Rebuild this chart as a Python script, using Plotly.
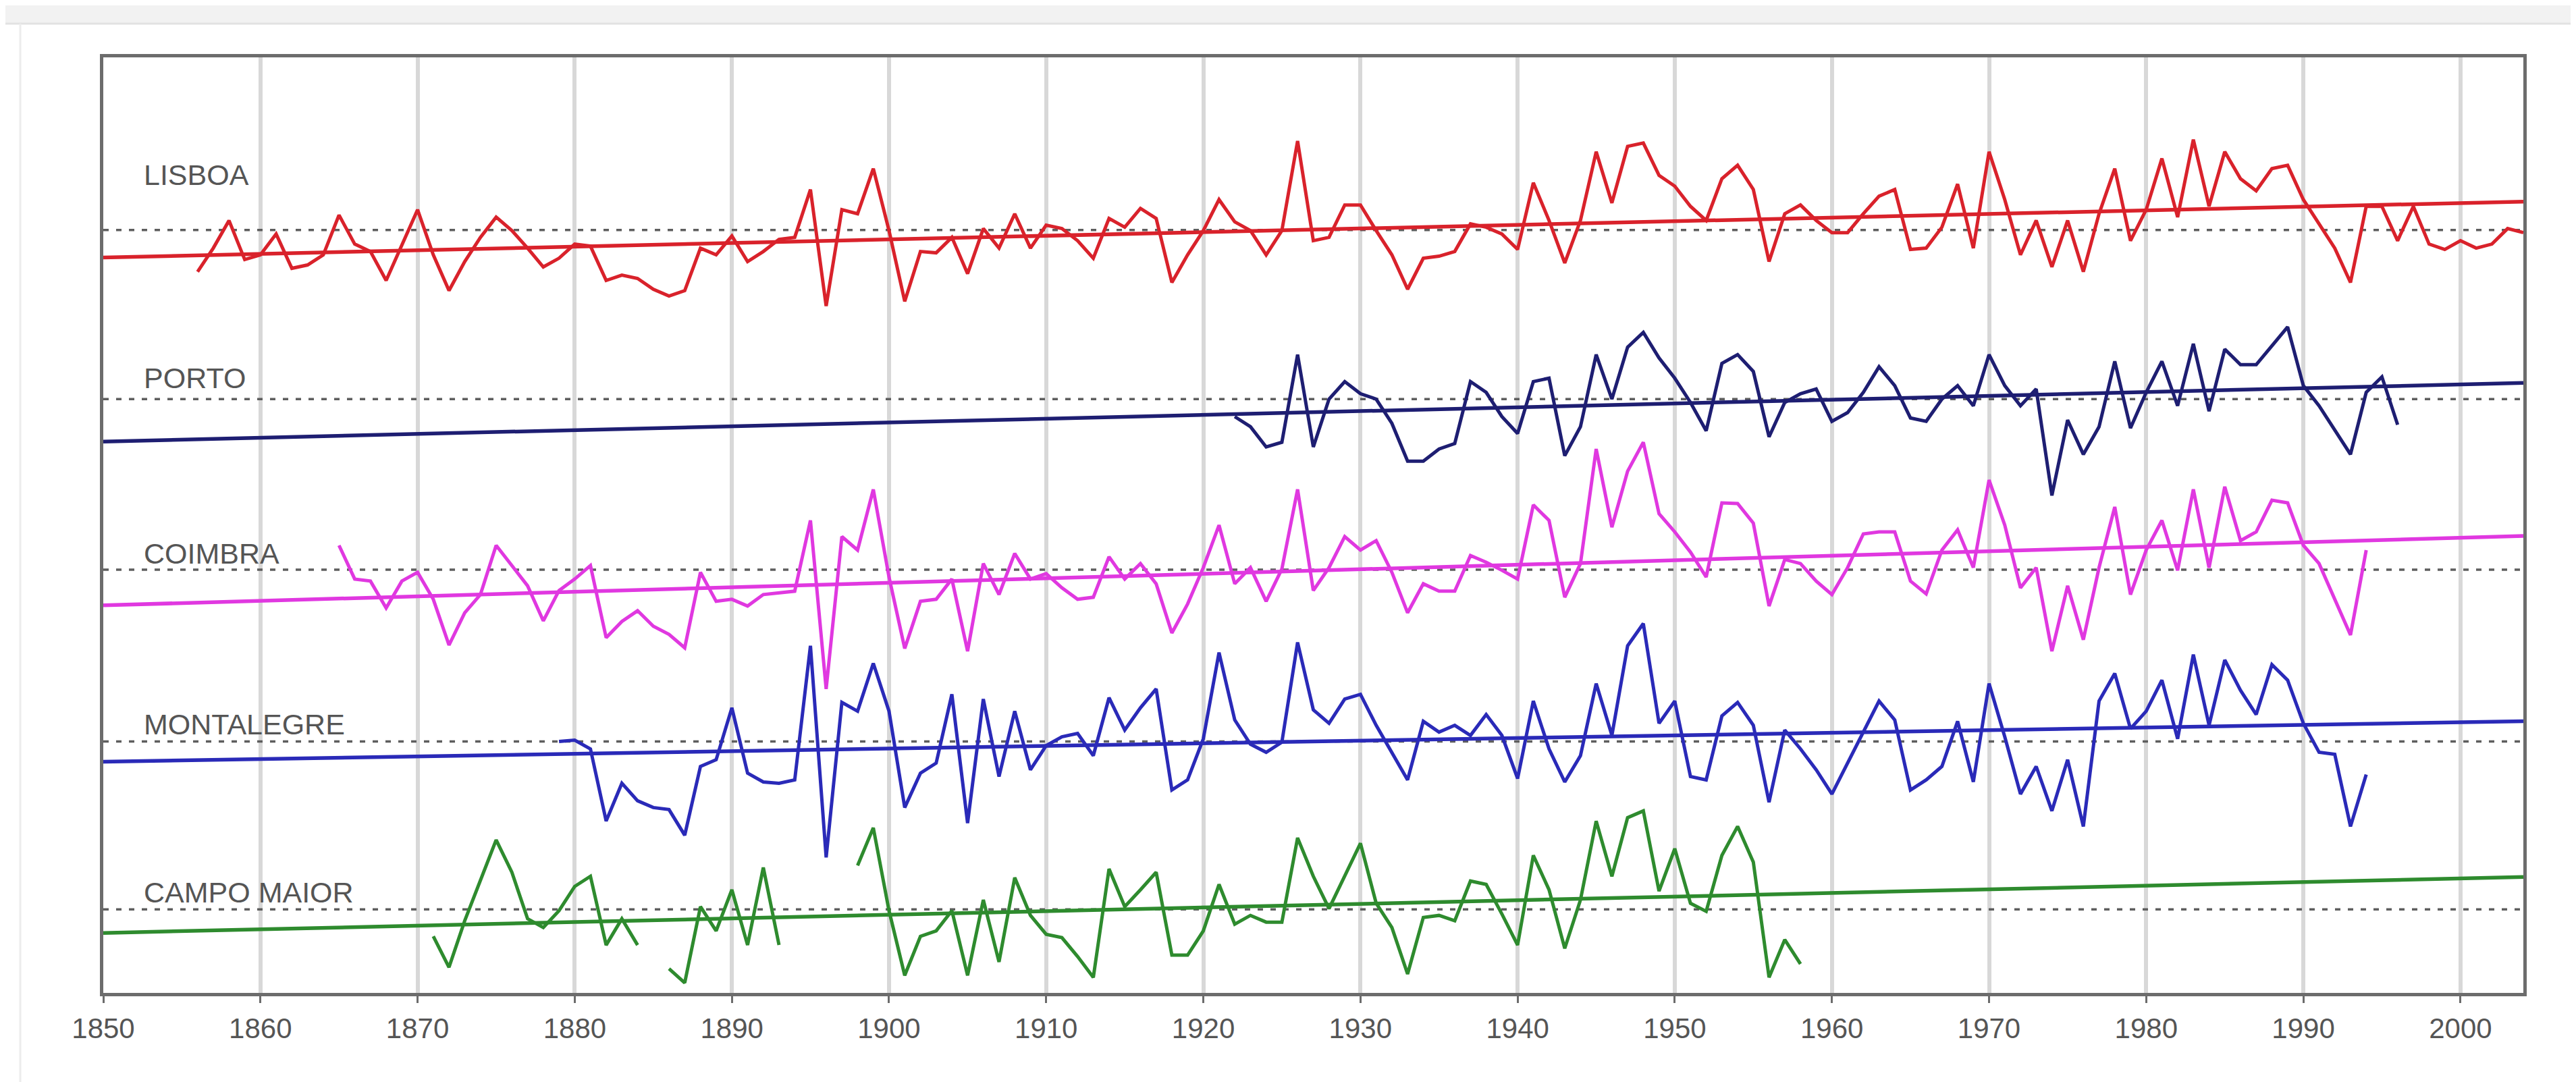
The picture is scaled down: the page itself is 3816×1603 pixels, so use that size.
import plotly.graph_objects as go

# ---------------- data (anomalies relative to each station's mean) ----------------
STATIONS = ["LISBOA", "PORTO", "COIMBRA", "MONTALEGRE", "CAMPO MAIOR"]

LISBOA_START = 1856
LISBOA = [
    -0.62, -0.27, 0.14, -0.44, -0.37, -0.06, -0.57, -0.52, -0.37, 0.22,   # 1856-1865
    -0.21, -0.32, -0.75, -0.21, 0.30, -0.37, -0.90, -0.47, -0.11, 0.19,   # 1866-1875
    -0.01, -0.27, -0.55, -0.42, -0.21, -0.24, -0.75, -0.67, -0.72, -0.88, # 1876-1885
    -0.98, -0.90, -0.27, -0.37, -0.09, -0.47, -0.32, -0.14, -0.11, 0.60,  # 1886-1895
    -1.13, 0.30, 0.24, 0.91, -0.01, -1.06, -0.32, -0.34, -0.11, -0.65,    # 1896-1905
    0.02, -0.27, 0.24, -0.27, 0.07, 0.02, -0.16, -0.42, 0.17, 0.04,       # 1906-1915
    0.32, 0.17, -0.78, -0.37, -0.01, 0.45, 0.12, -0.01, -0.37, -0.01,     # 1916-1925
    1.32, -0.16, -0.11, 0.37, 0.37, -0.01, -0.37, -0.88, -0.42, -0.39,    # 1926-1935
    -0.32, 0.09, 0.04, -0.06, -0.29, 0.70, 0.14, -0.49, 0.14, 1.16,       # 1936-1945
    0.40, 1.24, 1.29, 0.81, 0.65, 0.35, 0.14, 0.76, 0.96, 0.60,           # 1946-1955
    -0.47, 0.24, 0.37, 0.14, -0.04, -0.04, 0.24, 0.50, 0.60, -0.29,       # 1956-1965
    -0.27, 0.04, 0.68, -0.27, 1.16, 0.45, -0.37, 0.14, -0.55, 0.14,       # 1966-1975
    -0.62, 0.24, 0.91, -0.16, 0.30, 1.06, 0.19, 1.34, 0.35, 1.16,         # 1976-1985
    0.76, 0.58, 0.91, 0.96, 0.45, 0.09, -0.27, -0.78, 0.35, 0.35,         # 1986-1995
    -0.16, 0.35, -0.21, -0.29, -0.16, -0.27, -0.21, 0.02, -0.04,          # 1996-2004
]

PORTO_START = 1922
PORTO = [
    -0.26, -0.41, -0.71, -0.64, 0.66, -0.71, 0.00, 0.26, 0.08,            # 1922-1930
    0.00, -0.36, -0.92, -0.92, -0.74, -0.66, 0.26, 0.10, -0.26, -0.51,    # 1931-1940
    0.26, 0.31, -0.84, -0.41, 0.66, 0.00, 0.77, 0.99, 0.61, 0.31,         # 1941-1950
    -0.05, -0.47, 0.53, 0.66, 0.41, -0.56, -0.05, 0.08, 0.15, -0.33,      # 1951-1960
    -0.20, 0.10, 0.48, 0.20, -0.28, -0.33, 0.00, 0.20, -0.10, 0.66,       # 1961-1970
    0.20, -0.10, 0.15, -1.43, -0.31, -0.82, -0.41, 0.56, -0.43, 0.10,     # 1971-1980
    0.56, -0.10, 0.82, -0.18, 0.74, 0.51, 0.51, 0.79, 1.07, 0.20,         # 1981-1990
    -0.10, -0.46, -0.82, 0.10, 0.33, -0.38,                               # 1991-1996
]

COIMBRA_START = 1865
COIMBRA = [
    0.36, -0.14, -0.17, -0.57, -0.17, -0.04,                              # 1865-1870
    -0.44, -1.12, -0.64, -0.37, 0.36, 0.06, -0.24, -0.76, -0.31, -0.14,   # 1871-1880
    0.06, -1.01, -0.77, -0.61, -0.84, -0.96, -1.16, -0.04, -0.47, -0.44,  # 1881-1890
    -0.54, -0.37, -0.34, -0.32, 0.73, -1.77, 0.49, 0.29, 1.19, -0.11,     # 1891-1900
    -1.17, -0.47, -0.44, -0.14, -1.21, 0.09, -0.37, 0.24, -0.14, -0.06,   # 1901-1910
    -0.27, -0.44, -0.41, 0.19, -0.14, 0.09, -0.21, -0.94, -0.51, 0.03,    # 1911-1920
    0.66, -0.21, 0.03, -0.47, 0.01, 1.19, -0.31, 0.03, 0.49, 0.29,        # 1921-1930
    0.43, -0.04, -0.64, -0.21, -0.32, -0.32, 0.21, 0.11, -0.01, -0.14,    # 1931-1940
    0.96, 0.73, -0.41, 0.09, 1.79, 0.63, 1.46, 1.89, 0.83, 0.56,          # 1941-1950
    0.26, -0.11, 0.99, 0.98, 0.69, -0.54, 0.15, 0.09, -0.17, -0.37,       # 1951-1960
    0.03, 0.53, 0.56, 0.56, -0.17, -0.36, 0.29, 0.59, 0.03, 1.33,         # 1961-1970
    0.66, -0.27, 0.03, -1.21, -0.24, -1.04, 0.03, 0.93, -0.37, 0.29,      # 1971-1980
    0.73, -0.01, 1.19, 0.03, 1.23, 0.43, 0.56, 1.03, 0.99, 0.36,          # 1981-1990
    0.09, -0.44, -0.97, 0.29,                                             # 1991-1994
]

MONTALEGRE_START = 1879
MONTALEGRE = [
    0.00, 0.02,                                                           # 1879-1880
    -0.11, -1.18, -0.62, -0.88, -0.98, -1.01, -1.39, -0.37, -0.27, 0.50,  # 1881-1890
    -0.47, -0.60, -0.62, -0.57, 1.42, -1.72, 0.58, 0.45, 1.16, 0.45,      # 1891-1900
    -0.98, -0.47, -0.32, 0.70, -1.21, 0.63, -0.52, 0.45, -0.42, -0.06,    # 1901-1910
    0.07, 0.12, -0.21, 0.65, 0.17, 0.50, 0.78, -0.72, -0.57, 0.04,        # 1911-1920
    1.32, 0.32, -0.04, -0.16, -0.01, 1.47, 0.47, 0.27, 0.63, 0.70,        # 1921-1930
    0.24, -0.16, -0.57, 0.30, 0.14, 0.24, 0.09, 0.40, 0.09, -0.55,        # 1931-1940
    0.60, -0.11, -0.60, -0.21, 0.86, 0.09, 1.42, 1.75, 0.27, 0.60,        # 1941-1950
    -0.52, -0.57, 0.38, 0.58, 0.24, -0.90, 0.17, -0.11, -0.42, -0.78,     # 1951-1960
    -0.32, 0.14, 0.60, 0.32, -0.72, -0.57, -0.37, 0.30, -0.60, 0.86,      # 1961-1970
    0.07, -0.78, -0.37, -1.03, -0.27, -1.26, 0.60, 1.01, 0.19, 0.45,      # 1971-1980
    0.91, 0.04, 1.29, 0.24, 1.21, 0.76, 0.40, 1.14, 0.91, 0.27,           # 1981-1990
    -0.16, -0.19, -1.26, -0.49,                                           # 1991-1994
]

CAMPO_MAIOR_START = 1871
CAMPO_MAIOR = [
    -0.40, -0.86, -0.17, 0.44, 1.03, 0.55, -0.14, -0.27, -0.02, 0.34,     # 1871-1880
    0.49, -0.53, -0.14, -0.53, None, -0.88, -1.09, 0.04, -0.32, 0.29,     # 1881-1890
    -0.53, 0.62, -0.53, None, None, None, None, 0.65, 1.21, -0.02,        # 1891-1900
    -0.98, -0.40, -0.32, -0.02, -0.98, 0.14, -0.78, 0.47, -0.09, -0.37,   # 1901-1910
    -0.42, -0.70, -1.01, 0.60, 0.04, 0.29, 0.55, -0.68, -0.68, -0.32,     # 1911-1920
    0.37, -0.22, -0.09, -0.19, -0.19, 1.06, 0.49, 0.01, 0.49, 0.98,       # 1921-1930
    0.09, -0.27, -0.96, -0.12, -0.09, -0.17, 0.42, 0.37, -0.07, -0.53,    # 1931-1940
    0.80, 0.29, -0.58, 0.14, 1.31, 0.49, 1.36, 1.46, 0.27, 0.90,          # 1941-1950
    0.09, -0.03, 0.80, 1.23, 0.70, -1.01, -0.45, -0.81,                   # 1951-1958
]

# linear trend values at the two ends of the axis (relative to each station's mean)
TREND_YEARS = [1850, 2004]
TREND_START = [-0.41, -0.63, -0.53, -0.30, -0.35]
TREND_END = [0.42, 0.24, 0.50, 0.30, 0.48]

X_TICKS = list(range(1850, 2001, 10))

# ---------------- layout / style settings ----------------
SERIES = [
    (LISBOA_START, LISBOA),
    (PORTO_START, PORTO),
    (COIMBRA_START, COIMBRA),
    (MONTALEGRE_START, MONTALEGRE),
    (CAMPO_MAIOR_START, CAMPO_MAIOR),
]
COLORS = ["#d9222b", "#1e1e72", "#e038e0", "#2a2ab8", "#2e8b2e"]
OFFSETS = [11.32, 8.81, 6.28, 3.73, 1.24]      # vertical stacking of the station curves
LABEL_SHIFT = [0.82, 0.31, 0.24, 0.26, 0.25]   # label position above the mean line
LABEL_X = 1852.5
Y_RANGE = [0, 13.88]
X_RANGE = [1850, 2004]

FONT = "Liberation Sans, Arial, sans-serif"
TEXT_COLOR = "#555555"
FRAME_COLOR = "#6c6c6c"

fig = go.Figure()

for i, name in enumerate(STATIONS):
    start, vals = SERIES[i]
    off = OFFSETS[i]
    col = COLORS[i]
    years = list(range(start, start + len(vals)))
    # mean (dotted) line
    fig.add_trace(go.Scatter(
        x=X_RANGE, y=[off, off], mode="lines",
        line=dict(color="#5e5e5e", width=3.5, dash="8px,11px"),
        hoverinfo="skip", showlegend=False))
    # trend line
    fig.add_trace(go.Scatter(
        x=TREND_YEARS, y=[off + TREND_START[i], off + TREND_END[i]], mode="lines",
        line=dict(color=col, width=5.5),
        hoverinfo="skip", showlegend=False))
    # series
    fig.add_trace(go.Scatter(
        x=years, y=[None if v is None else off + v for v in vals], mode="lines",
        line=dict(color=col, width=5), connectgaps=False,
        name=name, showlegend=False))
    # station label
    fig.add_annotation(
        x=LABEL_X, y=off + LABEL_SHIFT[i], xref="x", yref="y",
        text=name, showarrow=False, xanchor="left", yanchor="middle",
        font=dict(family=FONT, size=43, color=TEXT_COLOR))

# screenshot-like page chrome around the chart
shapes = [
    dict(type="rect", xref="paper", yref="paper", x0=-0.1, x1=1.1, y0=1.036, y1=1.07,
         fillcolor="#f2f2f2", line=dict(width=0), layer="below"),
    dict(type="line", xref="paper", yref="paper", x0=-0.1, x1=1.1, y0=1.036, y1=1.036,
         line=dict(color="#e2e2e2", width=3)),
    dict(type="line", xref="paper", yref="paper", x0=-0.0343, x1=-0.0343, y0=-0.0967, y1=1.036,
         line=dict(color="#ececec", width=3)),
    dict(type="rect", xref="paper", yref="paper", x0=-0.1, x1=1.1, y0=-0.105, y1=-0.0967,
         fillcolor="#9a9a9a", line=dict(width=0)),
]

fig.update_layout(
    width=3816, height=1603,
    margin=dict(l=145, r=86, t=77, b=140),
    paper_bgcolor="white", plot_bgcolor="white",
    showlegend=False,
    shapes=shapes,
    font=dict(family=FONT, color=TEXT_COLOR),
    xaxis=dict(
        range=X_RANGE, tickmode="array", tickvals=X_TICKS,
        ticktext=[str(t) for t in X_TICKS],
        showgrid=True, gridcolor="#d8d8d8", gridwidth=6,
        showline=True, linecolor=FRAME_COLOR, linewidth=5, mirror=True,
        ticks="outside", ticklen=10, tickwidth=3, tickcolor=FRAME_COLOR,
        tickfont=dict(family=FONT, size=42, color=TEXT_COLOR),
        ticklabelstandoff=2, zeroline=False,
    ),
    yaxis=dict(
        range=Y_RANGE, showgrid=False, showticklabels=False, ticks="",
        showline=True, linecolor=FRAME_COLOR, linewidth=5, mirror=True,
        zeroline=False,
    ),
)

fig.write_html("out.html", config={"displayModeBar": False})
